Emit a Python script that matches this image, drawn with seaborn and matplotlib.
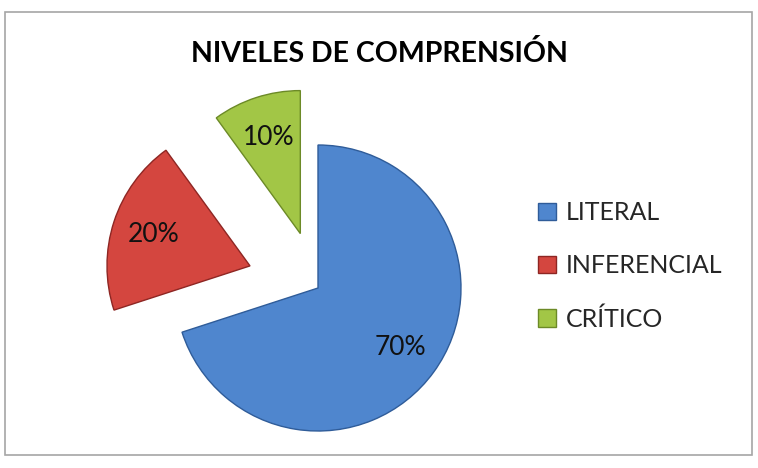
import numpy as np
import seaborn as sns
import matplotlib.pyplot as plt
from matplotlib.patches import Rectangle

# datos del grafico
niveles = ["LITERAL", "INFERENCIAL", "CRÍTICO"]
porcentajes = [70, 20, 10]
colores = ["#4F86CE", "#D4463F", "#A2C646"]
bordes = ["#2F5C99", "#8E2623", "#6C8A27"]
separacion = [0.0, 0.5, 0.4]

sns.set_theme(style="white")
plt.rcParams["font.family"] = ["Lato", "DejaVu Sans"]

fig = plt.figure(figsize=(7.58, 4.68), dpi=100)
fig.patch.set_facecolor("white")

# marco gris del grafico
fig.patches.append(Rectangle((5 / 758, 1 - 455 / 468), 747 / 758, 443 / 468,
                             transform=fig.transFigure, fill=False,
                             edgecolor="#A6A6A6", linewidth=1.2))

fig.text(379 / 758, 1 - 54 / 468, "NIVELES DE COMPRENSIÓN",
         ha="center", va="center", fontsize=20.5, fontweight="bold", color="black")

# ejes: 1 unidad = 143 px, centro en (318, 288)
r = 143.0
ax = fig.add_axes([100 / 758, 8 / 468, 400 / 758, 400 / 468])
wedges, textos, pct = ax.pie(porcentajes, colors=colores, startangle=90,
                             counterclock=False, explode=separacion,
                             autopct="%1.0f%%", pctdistance=0.71,
                             wedgeprops=dict(linewidth=1.0),
                             textprops=dict(fontsize=19, color="#111111"))
for w, b in zip(wedges, bordes):
    w.set_edgecolor(b)
ax.set_xlim(-(318 - 100) / r, (500 - 318) / r)
ax.set_ylim(-(180 - 8) / r, (408 - 180) / r)
ax.set_aspect("auto")
ax.axis("off")

fig.legend(wedges, niveles, loc="center left",
           bbox_to_anchor=(538 / 758, 1 - 266 / 468), frameon=False,
           fontsize=18, handlelength=0.72, handleheight=0.72,
           handletextpad=0.4, labelspacing=1.2, borderpad=0, borderaxespad=0)

fig.savefig("out.png", dpi=100)
